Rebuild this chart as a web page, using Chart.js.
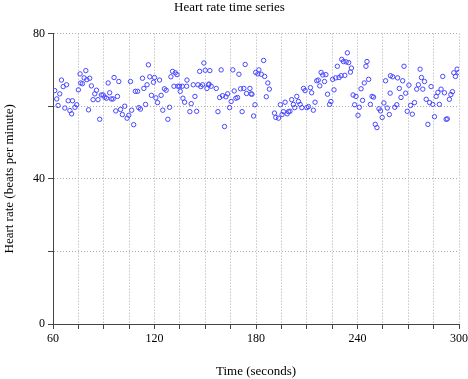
<!DOCTYPE html>
<html>
<head>
<meta charset="utf-8">
<script src="https://cdn.jsdelivr.net/npm/chart.js@4"></script>
<style>
  html, body { margin: 0; padding: 0; background: #ffffff; }
  #wrap { width: 468px; height: 379px; position: relative; }
</style>
</head>
<body>
<div id="wrap"><canvas id="c" width="468" height="379"></canvas></div>
<script>
// Time (seconds) of each beat
const times = [
  61.0, 62.2, 63.0, 64.0, 65.0, 66.0, 67.0, 68.0, 69.0, 70.0, 71.0, 71.5, 73.0, 74.0, 75.0, 76.0, 76.4, 77.4, 78.4, 79.4,
  80.0, 81.0, 81.7, 82.7, 83.7, 84.7, 85.7, 86.6, 87.6, 88.6, 89.6, 90.6, 91.6, 92.6, 93.5, 94.5, 95.5, 96.1, 97.1, 98.1,
  98.9, 99.9, 101.0, 102.4, 103.8, 104.8, 105.8, 106.5, 107.7, 108.7, 110.0, 110.7, 111.7, 112.9, 113.7, 114.7, 115.6, 116.4, 117.2, 118.2,
  119.4, 120.0, 120.8, 121.8, 123.0, 123.9, 124.9, 125.9, 126.9, 127.9, 128.9, 129.7, 130.7, 131.5, 132.3, 133.3, 133.8, 134.8, 135.2, 136.4,
  136.8, 137.8, 139.0, 139.2, 140.9, 141.7, 142.9, 143.9, 144.9, 145.7, 146.7, 147.4, 148.4, 149.2, 150.0, 151.0, 152.0, 152.2, 152.7, 153.5,
  156.5, 157.5, 158.5, 159.4, 160.2, 161.4, 162.2, 163.2, 164.4, 165.3, 166.3, 167.1, 168.1, 169.1, 169.9, 170.9, 171.8, 172.8, 173.6, 174.4,
  176.4, 177.1, 177.6, 178.6, 179.4, 179.8, 181.1, 181.7, 183.1, 184.5, 185.1, 186.1, 187.0, 187.9, 190.9, 191.7, 193.3, 194.4, 195.4, 196.2,
  197.2, 198.4, 199.2, 200.1, 201.1, 202.1, 202.9, 204.1, 205.1, 206.1, 207.1, 208.1, 209.0, 210.0, 211.0, 212.2, 212.9, 213.9, 214.9, 215.9,
  216.8, 217.7, 218.5, 219.5, 220.5, 221.3, 222.3, 223.5, 224.3, 225.3, 226.1, 227.1, 228.1, 229.1, 230.3, 230.7, 231.7, 232.5, 233.3, 234.0,
  234.8, 235.8, 236.4, 237.4, 238.3, 239.1, 240.3, 241.1, 242.1, 243.0, 244.0, 245.0, 245.6, 246.6, 247.6, 248.6, 249.5, 250.5, 251.5, 252.7,
  253.6, 254.6, 255.6, 256.6, 257.6, 258.8, 259.3, 259.5, 260.8, 262.0, 263.2, 263.7, 264.7, 265.7, 266.7, 267.5, 268.5, 269.4, 270.4, 271.4,
  272.4, 273.7, 275.0, 276.0, 277.0, 277.8, 278.6, 279.6, 280.6, 281.6, 282.6, 283.5, 284.5, 285.5, 286.5, 287.5, 288.4, 289.4, 290.4, 291.4,
  292.4, 293.1, 294.3, 295.2, 296.1, 296.9, 297.9, 298.9, 299.9
];
// Heart rate (beats per minute) at each beat
const rates = [
  64.3, 62.0, 60.2, 63.4, 67.2, 65.4, 59.5, 65.9, 61.5, 58.8, 57.9, 61.5, 59.7, 60.4, 64.5, 68.9, 66.4, 66.2, 67.8, 69.8,
  67.3, 59.0, 67.7, 65.6, 61.8, 63.4, 64.4, 61.8, 56.4, 63.1, 63.1, 62.5, 62.2, 66.4, 63.7, 62.0, 62.0, 67.9, 58.7, 62.7,
  66.8, 59.1, 57.7, 60.0, 56.7, 57.5, 66.8, 58.9, 54.9, 64.1, 64.1, 59.6, 59.2, 67.7, 64.9, 60.5, 65.9, 71.4, 68.1, 63.0,
  66.6, 67.9, 62.3, 61.0, 67.2, 63.0, 58.9, 64.8, 64.4, 56.4, 59.7, 68.1, 69.6, 65.5, 69.2, 68.7, 65.5, 65.5, 64.1, 65.5,
  62.2, 61.1, 65.5, 67.2, 58.5, 60.7, 65.9, 62.7, 58.6, 65.9, 69.6, 65.4, 65.9, 71.9, 69.9, 64.9, 65.9, 66.1, 69.8, 65.5,
  64.9, 58.5, 62.4, 70.0, 62.9, 54.4, 62.6, 63.4, 59.6, 61.3, 70.0, 64.2, 62.2, 62.4, 68.8, 64.8, 58.5, 64.9, 71.5, 63.5,
  64.9, 63.4, 63.3, 57.3, 60.4, 69.3, 68.9, 70.0, 68.8, 72.6, 68.2, 62.6, 66.4, 64.7, 58.1, 56.9, 56.7, 60.4, 57.7, 58.5,
  61.1, 57.9, 58.5, 58.6, 61.8, 60.5, 59.6, 62.7, 61.3, 60.5, 59.6, 64.9, 64.3, 59.6, 59.9, 65.1, 63.7, 58.9, 61.1, 67.0,
  67.2, 65.6, 69.3, 68.6, 66.8, 68.7, 63.3, 60.5, 61.3, 67.4, 64.5, 67.8, 71.0, 67.9, 68.4, 72.9, 72.3, 68.5, 72.2, 74.7,
  72.0, 69.4, 70.5, 63.1, 60.4, 62.7, 57.5, 59.7, 64.8, 61.6, 66.4, 71.0, 72.3, 67.4, 60.5, 62.7, 62.5, 55.0, 54.1, 59.3,
  58.7, 56.9, 60.9, 67.0, 59.5, 57.7, 63.6, 68.4, 68.1, 59.7, 60.4, 67.8, 64.9, 62.4, 67.0, 71.0, 63.6, 58.6, 65.8, 60.2,
  57.8, 61.0, 64.7, 65.9, 70.2, 67.9, 64.7, 66.8, 61.9, 55.0, 61.0, 65.4, 60.5, 57.1, 62.7, 63.8, 60.5, 64.7, 68.2, 63.7,
  56.4, 56.5, 61.9, 63.2, 64.0, 69.2, 68.2, 70.2, 69.3
];
const xTickLabels = [60, 120, 180, 240, 300];
const yTickLabels = [0, 40, 80];

const points = times.map((t, i) => ({ x: t, y: rates[i] }));
const serif = "'Liberation Serif', 'DejaVu Serif', serif";

new Chart(document.getElementById('c'), {
  type: 'scatter',
  data: {
    datasets: [{
      label: 'Heart rate',
      data: points,
      showLine: false,
      pointStyle: 'circle',
      pointRadius: 2.2,
      pointBorderWidth: 1,
      pointBackgroundColor: 'rgba(0,0,0,0)',
      pointBorderColor: 'rgb(70,70,255)'
    }]
  },
  options: {
    responsive: false,
    animation: false,
    events: [],
    layout: { padding: { left: 0, right: 9, top: 0, bottom: 0 } },
    plugins: {
      legend: { display: false },
      tooltip: { enabled: false },
      title: {
        display: true,
        text: 'Heart rate time series',
        color: '#000',
        font: { family: serif, size: 13, weight: 'normal' },
        padding: { top: 0, bottom: 18 }
      }
    },
    scales: {
      x: {
        type: 'linear',
        min: 60, max: 300,
        afterFit: (s) => { s.height = 55; s.paddingLeft = 0; s.paddingRight = 0; },
        ticks: {
          stepSize: 15,
          autoSkip: false,
          maxRotation: 0,
          padding: 3,
          color: '#000',
          font: { family: serif, size: 12 },
          callback: (v) => xTickLabels.includes(v) ? String(v) : ''
        },
        grid: {
          color: '#aaaaaa',
          lineWidth: 1,
          drawTicks: true,
          tickLength: 5,
          tickColor: '#444',
          tickBorderDash: []
        },
        border: { display: true, color: '#444', width: 1, dash: [1, 2] },
        title: {
          display: true,
          text: 'Time (seconds)',
          color: '#000',
          font: { family: serif, size: 13 },
          padding: { top: 0, bottom: 0 }
        }
      },
      y: {
        min: 0, max: 80,
        afterFit: (s) => { s.width = 53; s.paddingTop = 0; s.paddingBottom = 0; },
        ticks: {
          stepSize: 20,
          autoSkip: false,
          padding: 3,
          color: '#000',
          font: { family: serif, size: 12 },
          callback: (v) => yTickLabels.includes(v) ? String(v) : ''
        },
        grid: {
          color: '#aaaaaa',
          lineWidth: 1,
          drawTicks: true,
          tickLength: 5,
          tickColor: '#444',
          tickBorderDash: []
        },
        border: { display: true, color: '#444', width: 1, dash: [1, 2] },
        title: {
          display: true,
          text: 'Heart rate (beats per minute)',
          color: '#000',
          font: { family: serif, size: 13 },
          padding: { top: 2, bottom: 0 }
        }
      }
    }
  }
});
</script>
</body>
</html>
